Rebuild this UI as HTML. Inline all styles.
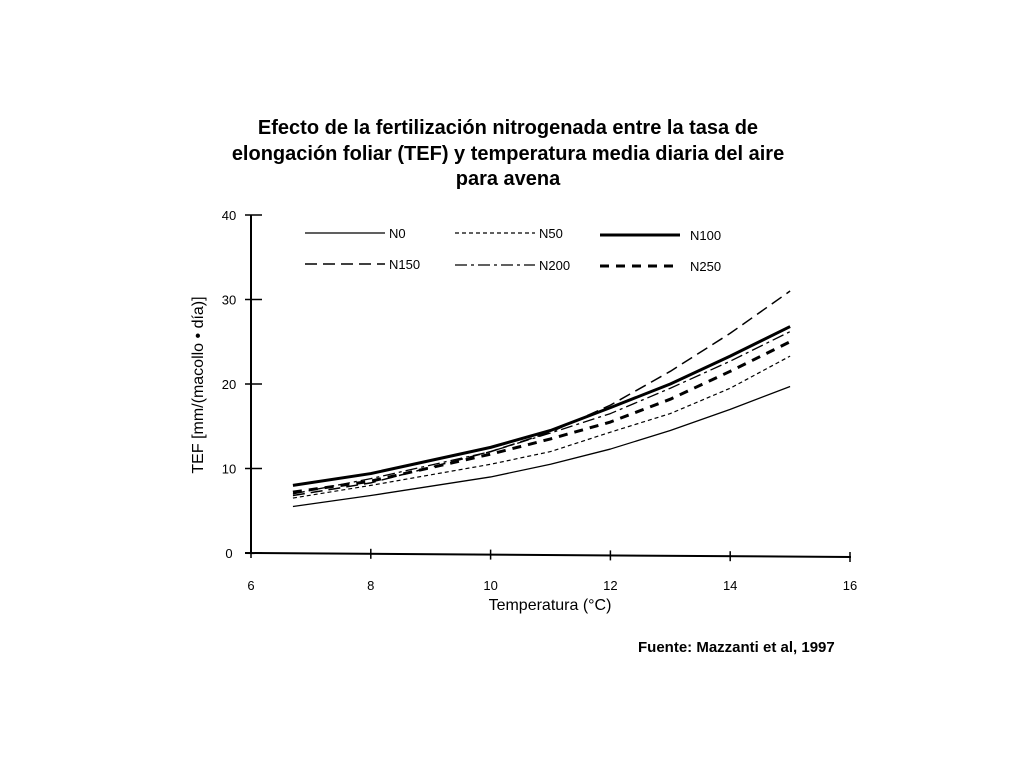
<!DOCTYPE html>
<html><head><meta charset="utf-8"><style>
body{margin:0;background:#fff;width:1024px;height:768px;overflow:hidden;font-family:"Liberation Sans",sans-serif}
</style></head><body>
<svg width="1024" height="768" style="position:absolute;left:0;top:0">
<g font-family="Liberation Sans, sans-serif" font-weight="bold" font-size="20" text-anchor="middle" fill="#000">
<text x="508" y="134">Efecto de la fertilización nitrogenada entre la tasa de</text>
<text x="508" y="160">elongación foliar (TEF) y temperatura media diaria del aire</text>
<text x="508" y="185">para avena</text>
</g>
<g id="axes"></g>
<g id="series"></g>
<g id="legend"></g>
<text transform="translate(203,385) rotate(-90)" text-anchor="middle" font-size="16" font-family="Liberation Sans, sans-serif">TEF [mm/(macollo • día)]</text>
<text x="550" y="610" text-anchor="middle" font-size="16" font-family="Liberation Sans, sans-serif">Temperatura (°C)</text>
<text x="638" y="652" font-size="15" font-weight="bold" font-family="Liberation Sans, sans-serif">Fuente: Mazzanti et al, 1997</text>
</svg>
<script>
const xTicks=[6,8,10,12,14,16];
const yTicks=[0,10,20,30,40];
const temps=[6.7,8,10,11,12,13,14,15];
const n0=[5.5,6.8,9,10.5,12.3,14.5,17,19.7];
const n50=[6.5,8,10.5,12,14.3,16.5,19.5,23.3];
const n100=[8,9.4,12.5,14.5,17.2,20,23.3,26.8];
const n150=[6.8,8.3,12,14.3,17.5,21.5,26,31];
const n200=[7,8.8,12,14.2,16.5,19.5,22.7,26.2];
const n250=[7.2,8.5,11.7,13.5,15.5,18.2,21.5,25];
const seriesNames=["N0","N50","N100","N150","N200","N250"];
const NS="http://www.w3.org/2000/svg";
const sx=v=>251+(v-6)*59.9;
const sy=v=>553-v*8.45;
function mk(t,a,p){const e=document.createElementNS(NS,t);for(const k in a)e.setAttribute(k,a[k]);p.appendChild(e);return e;}
const ax=document.getElementById('axes');
let l=mk('line',{x1:251,y1:215,x2:251,y2:553,stroke:'#000','stroke-width':2},ax);


l=mk('line',{x1:245,y1:553,x2:851,y2:557,stroke:'#000','stroke-width':2},ax);


xTicks.forEach(v=>{const x=sx(v),y=553+(x-251)*4/600;
const t=mk('line',{x1:x,y1:y-5,x2:x,y2:y+5,stroke:'#000','stroke-width':1.5},ax);


const tx=mk('text',{x:x,y:590,'text-anchor':'middle','font-size':13},ax);tx.textContent=v;

});
yTicks.forEach(v=>{const y=sy(v);
const t=mk('line',{x1:245,y1:y,x2:262,y2:y,stroke:'#000','stroke-width':1.5},ax);


const tx=mk('text',{x:229,y:y+5,'text-anchor':'middle','font-size':13},ax);tx.textContent=v;

});
const data=[n0,n50,n100,n150,n200,n250];
const styles=[{w:1.3,d:''},{w:1.2,d:'4 3'},{w:3,d:''},{w:1.5,d:'12 6'},{w:1.3,d:'12 4 3 4'},{w:3,d:'9 7'}];
const sg=document.getElementById('series');
data.forEach((arr,i)=>{const pts=arr.map((v,j)=>sx(temps[j])+','+sy(v));
let d='M'+pts[0];for(let j=1;j<pts.length;j++)d+=' L'+pts[j];
const p=mk('path',{d:d,fill:'none',stroke:'#000','stroke-width':styles[i].w,'stroke-dasharray':styles[i].d,'stroke-linejoin':'round'},sg);

});
const lg=document.getElementById('legend');
const lpos=[[305,233],[455,233],[600,235],[305,264],[455,265],[600,266]];
seriesNames.forEach((n,i)=>{const [x,y]=lpos[i];
const ln=mk('line',{x1:x,y1:y,x2:x+80,y2:y,stroke:'#000','stroke-width':styles[i].w,'stroke-dasharray':styles[i].d},lg);


const t=mk('text',{x:x+(i%3==2?90:84),y:y+5,'font-size':13},lg);t.textContent=n;

});
</script>
</body></html>
